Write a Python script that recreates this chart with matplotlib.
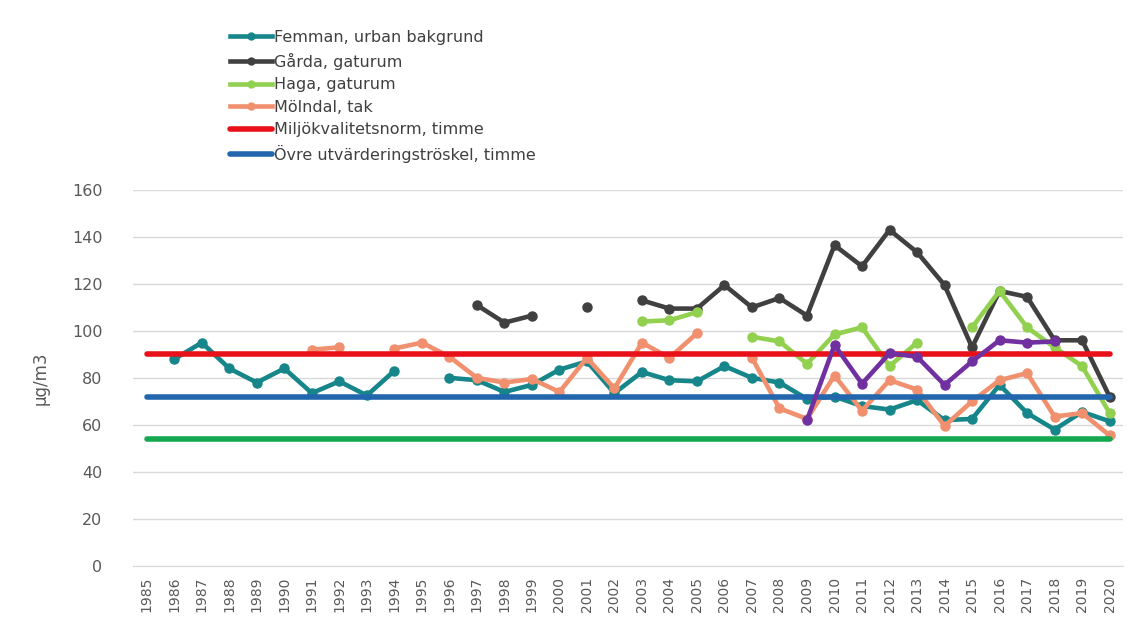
import numpy as np
import matplotlib.pyplot as plt

years = list(range(1985, 2021))
nan = np.nan

# values in µg/m3, one per year 1985-2020 (nan = no data)
femman = [nan, 88, 95, 84, 78, 84, 73.5, 78.5, 72.5, 83,
          nan, 80, 79, 74, 77, 83.5, 87, 73.5, 82.5, 79,
          78.5, 85, 80, 78, 71, 72, 68, 66.5, 70.5, 62,
          62.5, 77, 65, 58, 65.5, 61.5]
garda = [nan] * 12 + [111, 103.5, 106.5, nan, 110, nan, 113, 109.5,
                      109.5, 119.5, 110, 114, 106.5, 136.5, 127.5, 143, 133.5, 119.5,
                      93, 117, 114.5, 96, 96, 72]
haga = [nan] * 18 + [104, 104.5, 108, nan, 97.5, 95.5, 86, 98.5,
                     101.5, 85, 95, nan, 101.5, 117, 101.5, 93, 85, 65]
molndal = [nan] * 6 + [92, 93, nan, 92.5, 95, 89, 80, 78, 79.5, 74,
                       88.5, 75.5, 95, 88.5, 99, nan, 88.5, 67, 62.5, 81,
                       66, 79, 75, 59.5, 70, 79, 82, 63.5, 65, 55.5]
purple = [nan] * 24 + [62, 94, 77.5, 90.5, 89, 77, 87, 96, 95, 95.5, nan, nan]

norm_timme = 90
ovre_timme = 72
nedre_timme = 54

x = np.arange(len(years))

fig = plt.figure(figsize=(11.37, 6.23), dpi=100)
ax = fig.add_axes([0.117, 0.092, 0.871, 0.603])

lw = 3.3
ms = 6.5
l1, = ax.plot(x, femman, color='#16868A', lw=lw, marker='o', ms=ms, label='Femman, urban bakgrund')
l2, = ax.plot(x, garda, color='#404040', lw=lw, marker='o', ms=ms, label='Gårda, gaturum')
l3, = ax.plot(x, haga, color='#92D050', lw=lw, marker='o', ms=ms, label='Haga, gaturum')
l4, = ax.plot(x, molndal, color='#F0906E', lw=lw, marker='o', ms=ms, label='Mölndal, tak')
ax.plot(x, purple, color='#7030A0', lw=lw, marker='o', ms=ms, zorder=3)
l5, = ax.plot(x, [norm_timme] * len(x), color='#E8111A', lw=4, solid_capstyle='round',
              label='Miljökvalitetsnorm, timme')
l6, = ax.plot(x, [ovre_timme] * len(x), color='#2267AE', lw=4, solid_capstyle='round',
              label='Övre utvärderingströskel, timme')
ax.plot(x, [nedre_timme] * len(x), color='#14A850', lw=4, solid_capstyle='round')

ax.set_xlim(-0.5, len(x) - 0.5)
ax.set_ylim(0, 160)
ax.set_yticks(range(0, 161, 20))
ax.set_xticks(x)
ax.set_xticklabels([str(y) for y in years], rotation=90, fontsize=10, color='#595959')
ax.tick_params(axis='y', labelsize=11.5, colors='#595959', length=0, pad=22)
ax.tick_params(axis='x', length=0, pad=8)
ax.grid(axis='y', color='#D9D9D9', lw=1)
ax.set_axisbelow(True)
for s in ['top', 'right', 'left']:
    ax.spines[s].set_visible(False)
ax.spines['bottom'].set_color('#D9D9D9')
ax.set_ylabel('µg/m3', fontsize=12, color='#595959', labelpad=16)

leg = fig.legend(handles=[l1, l2, l3, l4, l5, l6], loc='upper left', bbox_to_anchor=(0.197, 0.962),
                 frameon=False, fontsize=11.5, labelcolor='#404040', handlelength=2.6,
                 handletextpad=0.1, labelspacing=0.47, borderaxespad=0)
for h in leg.legend_handles:
    h.set_markersize(5)

fig.savefig('out.png', dpi=100)
